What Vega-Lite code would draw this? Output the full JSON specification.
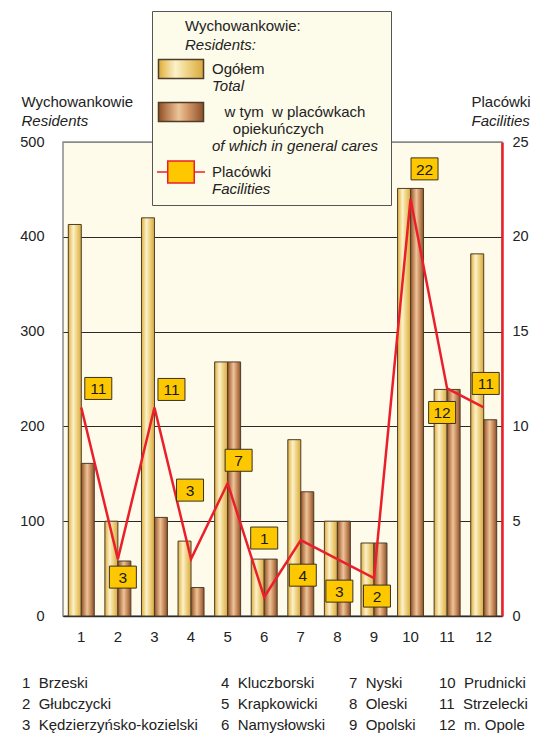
{
  "$schema": "https://vega.github.io/schema/vega-lite/v6.json",
  "width": 439,
  "height": 474,
  "autosize": {"type": "none"},
  "padding": {"left": 63, "top": 142, "right": 31, "bottom": 123},
  "background": "white",
  "config": {
    "font": "Liberation Sans, Arial, sans-serif",
    "view": {"fill": "#fefbea", "stroke": "#8a8a8a", "strokeWidth": 1.5},
    "axis": {"labelFontSize": 14.5, "labelColor": "#222222", "titleColor": "#222222", "titleFontSize": 15, "titleFontWeight": "normal", "ticks": false},
    "legend": {"labelColor": "#222222", "titleColor": "#222222", "titleFontWeight": "normal"}
  },
  "datasets": {
    "d": [
      {"nr": 1, "name": "Brzeski", "total": 413, "general": 161, "facilities": 11},
      {"nr": 2, "name": "Głubczycki", "total": 100, "general": 58, "facilities": 3},
      {"nr": 3, "name": "Kędzierzyńsko-kozielski", "total": 420, "general": 104, "facilities": 11},
      {"nr": 4, "name": "Kluczborski", "total": 79, "general": 30, "facilities": 3},
      {"nr": 5, "name": "Krapkowicki", "total": 268, "general": 268, "facilities": 7},
      {"nr": 6, "name": "Namysłowski", "total": 60, "general": 60, "facilities": 1},
      {"nr": 7, "name": "Nyski", "total": 186, "general": 131, "facilities": 4},
      {"nr": 8, "name": "Oleski", "total": 100, "general": 100, "facilities": 3},
      {"nr": 9, "name": "Opolski", "total": 77, "general": 77, "facilities": 2},
      {"nr": 10, "name": "Prudnicki", "total": 451, "general": 451, "facilities": 22},
      {"nr": 11, "name": "Strzelecki", "total": 239, "general": 239, "facilities": 12},
      {"nr": 12, "name": "m. Opole", "total": 382, "general": 207, "facilities": 11}
    ]
  },
  "data": {"name": "d"},
  "encoding": {
    "x": {
      "field": "nr", "type": "ordinal",
      "scale": {"type": "band", "paddingInner": 0.29, "paddingOuter": 0.145},
      "axis": {"title": null, "labelAngle": 0, "ticks": false, "domainColor": "#2a2a2a", "domainWidth": 1.5, "labelPadding": 13, "labelFontSize": 15}
    }
  },
  "layer": [
    {
      "transform": [{"fold": ["total", "general"], "as": ["series", "value"]}],
      "mark": {"type": "bar", "strokeWidth": 1},
      "encoding": {
        "xOffset": {"field": "series", "type": "nominal", "scale": {"domain": ["total", "general"]}},
        "y": {
          "field": "value", "type": "quantitative",
          "scale": {"domain": [0, 500]},
          "axis": {"orient": "left", "values": [0, 100, 200, 300, 400, 500], "labelPadding": 19, "domain": false, "ticks": false, "grid": true,
            "gridColor": {"condition": {"test": "datum.value === 500", "value": "#8a8a8a"}, "value": "#2a2a2a"}, "gridWidth": 1,
            "title": "Wychowankowie", "titleAngle": 0, "titleAlign": "left", "titleBaseline": "alphabetic", "titleX": -42, "titleY": -36}
        },
        "fill": {
          "field": "series", "type": "nominal",
          "scale": {"domain": ["total", "general", "facilities"], "range": [
            {"expr": "{gradient:'linear',x1:0,y1:0,x2:1,y2:0,stops:[{offset:0,color:'#d8a738'},{offset:0.12,color:'#e9c466'},{offset:0.38,color:'#fbf1cc'},{offset:0.6,color:'#f1d88e'},{offset:1,color:'#d9a93e'}]}"},
            {"expr": "{gradient:'linear',x1:0,y1:0,x2:1,y2:0,stops:[{offset:0,color:'#8a4d26'},{offset:0.15,color:'#b5774a'},{offset:0.45,color:'#ecc49a'},{offset:0.65,color:'#d4996a'},{offset:1,color:'#8c5028'}]}"},
            "#fdc800"]},
          "legend": {
            "orient": "none", "legendX": 89, "legendY": -131,
            "title": ["\u200b\u00a0\u00a0\u00a0\u00a0\u00a0\u00a0Wychowankowie:", "\u200b"],
            "titleFontSize": 15, "titleLineHeight": 19, "titlePadding": -2, "titleLimit": 400,
            "labelExpr": "datum.value === 'total' ? ['Ogółem', '\u200b'] : datum.value === 'general' ? ['\u200b\u00a0\u00a0\u00a0w tym\u00a0\u00a0w placówkach\u00a0\u00a0\u00a0\u00a0\u200b', '\u200b\u00a0\u00a0\u00a0\u00a0\u00a0opiekuńczych', '\u200b'] : ['Placówki', '\u200b']",
            "labelFontSize": 15, "labelLimit": 400, "labelOffset": 13,
            "symbolSize": 1156, "symbolOffset": 3, "symbolStrokeWidth": 1.5, "symbolOpacity": 1, "symbolFillColor": "#fdc800", "symbolStrokeColor": "#4d3d2a",
            "rowPadding": 0, "fillColor": "#fdfbea", "strokeColor": "#555555", "padding": 8,
            "encode": {"labels": {"lineHeight": {"value": 19}}}
          }
        },
        "stroke": {
          "field": "series", "type": "nominal",
          "scale": {"domain": ["total", "general", "facilities"], "range": ["#4d3d2a", "#4d3d2a", "#ea1f2b"]},
          "legend": {
            "orient": "none", "legendX": 89, "legendY": -131,
            "title": ["\u200b\u00a0\u00a0\u00a0\u00a0\u00a0\u00a0Wychowankowie:", "\u200b"],
            "titleFontSize": 15, "titleLineHeight": 19, "titlePadding": -2, "titleLimit": 400,
            "labelExpr": "datum.value === 'total' ? ['Ogółem', '\u200b'] : datum.value === 'general' ? ['\u200b\u00a0\u00a0\u00a0w tym\u00a0\u00a0w placówkach\u00a0\u00a0\u00a0\u00a0\u200b', '\u200b\u00a0\u00a0\u00a0\u00a0\u00a0opiekuńczych', '\u200b'] : ['Placówki', '\u200b']",
            "labelFontSize": 15, "labelLimit": 400, "labelOffset": 13,
            "symbolSize": 1156, "symbolOffset": 3, "symbolStrokeWidth": 1.5, "symbolOpacity": 1, "symbolFillColor": "#fdc800", "symbolStrokeColor": "#4d3d2a",
            "rowPadding": 0, "fillColor": "#fdfbea", "strokeColor": "#555555", "padding": 8,
            "encode": {"labels": {"lineHeight": {"value": 19}}}
          }
        }
      }
    },
    {
      "encoding": {
        "y": {
          "field": "facilities", "type": "quantitative",
          "scale": {"domain": [0, 25]},
          "axis": {"orient": "right", "values": [0, 5, 10, 15, 20, 25], "labelPadding": 10, "domain": true, "domainColor": "#ea1f2b", "domainWidth": 2.5, "ticks": false, "grid": false,
            "title": "Placówki", "titleAngle": 0, "titleAlign": "left", "titleBaseline": "alphabetic", "titleX": -31, "titleY": -36}
        }
      },
      "layer": [
        {"mark": {"type": "line", "strokeWidth": 2.5}, "encoding": {"stroke": {"datum": "facilities", "type": "nominal"}}},
        {"transform": [{"filter": "datum.nr === 1"}], "layer": [
          {"mark": {"type": "point", "shape": "M-1.227,-1H1.227V1H-1.227Z", "size": 484, "filled": true, "fill": "#fdc800", "stroke": "#3a3020", "strokeWidth": 1, "opacity": 1, "xOffset": 17, "yOffset": -19}},
          {"mark": {"type": "text", "fontSize": 15.5, "color": "#1a1a1a", "baseline": "middle", "xOffset": 17, "yOffset": -18}, "encoding": {"text": {"field": "facilities"}}}]},
        {"transform": [{"filter": "datum.nr === 2"}], "layer": [
          {"mark": {"type": "point", "shape": "M-1.227,-1H1.227V1H-1.227Z", "size": 484, "filled": true, "fill": "#fdc800", "stroke": "#3a3020", "strokeWidth": 1, "opacity": 1, "xOffset": 5, "yOffset": 18}},
          {"mark": {"type": "text", "fontSize": 15.5, "color": "#1a1a1a", "baseline": "middle", "xOffset": 5, "yOffset": 19}, "encoding": {"text": {"field": "facilities"}}}]},
        {"transform": [{"filter": "datum.nr === 3"}], "layer": [
          {"mark": {"type": "point", "shape": "M-1.227,-1H1.227V1H-1.227Z", "size": 484, "filled": true, "fill": "#fdc800", "stroke": "#3a3020", "strokeWidth": 1, "opacity": 1, "xOffset": 17, "yOffset": -18}},
          {"mark": {"type": "text", "fontSize": 15.5, "color": "#1a1a1a", "baseline": "middle", "xOffset": 17, "yOffset": -17}, "encoding": {"text": {"field": "facilities"}}}]},
        {"transform": [{"filter": "datum.nr === 4"}], "layer": [
          {"mark": {"type": "point", "shape": "M-1.227,-1H1.227V1H-1.227Z", "size": 484, "filled": true, "fill": "#fdc800", "stroke": "#3a3020", "strokeWidth": 1, "opacity": 1, "xOffset": -1, "yOffset": -69}},
          {"mark": {"type": "text", "fontSize": 15.5, "color": "#1a1a1a", "baseline": "middle", "xOffset": -1, "yOffset": -68}, "encoding": {"text": {"field": "facilities"}}}]},
        {"transform": [{"filter": "datum.nr === 5"}], "layer": [
          {"mark": {"type": "point", "shape": "M-1.227,-1H1.227V1H-1.227Z", "size": 484, "filled": true, "fill": "#fdc800", "stroke": "#3a3020", "strokeWidth": 1, "opacity": 1, "xOffset": 11, "yOffset": -23}},
          {"mark": {"type": "text", "fontSize": 15.5, "color": "#1a1a1a", "baseline": "middle", "xOffset": 11, "yOffset": -22}, "encoding": {"text": {"field": "facilities"}}}]},
        {"transform": [{"filter": "datum.nr === 6"}], "layer": [
          {"mark": {"type": "point", "shape": "M-1.227,-1H1.227V1H-1.227Z", "size": 484, "filled": true, "fill": "#fdc800", "stroke": "#3a3020", "strokeWidth": 1, "opacity": 1, "xOffset": 0, "yOffset": -59}},
          {"mark": {"type": "text", "fontSize": 15.5, "color": "#1a1a1a", "baseline": "middle", "xOffset": 0, "yOffset": -58}, "encoding": {"text": {"field": "facilities"}}}]},
        {"transform": [{"filter": "datum.nr === 7"}], "layer": [
          {"mark": {"type": "point", "shape": "M-1.227,-1H1.227V1H-1.227Z", "size": 484, "filled": true, "fill": "#fdc800", "stroke": "#3a3020", "strokeWidth": 1, "opacity": 1, "xOffset": 2, "yOffset": 35}},
          {"mark": {"type": "text", "fontSize": 15.5, "color": "#1a1a1a", "baseline": "middle", "xOffset": 2, "yOffset": 36}, "encoding": {"text": {"field": "facilities"}}}]},
        {"transform": [{"filter": "datum.nr === 8"}], "layer": [
          {"mark": {"type": "point", "shape": "M-1.227,-1H1.227V1H-1.227Z", "size": 484, "filled": true, "fill": "#fdc800", "stroke": "#3a3020", "strokeWidth": 1, "opacity": 1, "xOffset": 2, "yOffset": 32}},
          {"mark": {"type": "text", "fontSize": 15.5, "color": "#1a1a1a", "baseline": "middle", "xOffset": 2, "yOffset": 33}, "encoding": {"text": {"field": "facilities"}}}]},
        {"transform": [{"filter": "datum.nr === 9"}], "layer": [
          {"mark": {"type": "point", "shape": "M-1.227,-1H1.227V1H-1.227Z", "size": 484, "filled": true, "fill": "#fdc800", "stroke": "#3a3020", "strokeWidth": 1, "opacity": 1, "xOffset": 3, "yOffset": 18}},
          {"mark": {"type": "text", "fontSize": 15.5, "color": "#1a1a1a", "baseline": "middle", "xOffset": 3, "yOffset": 19}, "encoding": {"text": {"field": "facilities"}}}]},
        {"transform": [{"filter": "datum.nr === 10"}], "layer": [
          {"mark": {"type": "point", "shape": "M-1.227,-1H1.227V1H-1.227Z", "size": 484, "filled": true, "fill": "#fdc800", "stroke": "#3a3020", "strokeWidth": 1, "opacity": 1, "xOffset": 14, "yOffset": -30}},
          {"mark": {"type": "text", "fontSize": 15.5, "color": "#1a1a1a", "baseline": "middle", "xOffset": 14, "yOffset": -29}, "encoding": {"text": {"field": "facilities"}}}]},
        {"transform": [{"filter": "datum.nr === 11"}], "layer": [
          {"mark": {"type": "point", "shape": "M-1.227,-1H1.227V1H-1.227Z", "size": 484, "filled": true, "fill": "#fdc800", "stroke": "#3a3020", "strokeWidth": 1, "opacity": 1, "xOffset": -5, "yOffset": 24}},
          {"mark": {"type": "text", "fontSize": 15.5, "color": "#1a1a1a", "baseline": "middle", "xOffset": -5, "yOffset": 25}, "encoding": {"text": {"field": "facilities"}}}]},
        {"transform": [{"filter": "datum.nr === 12"}], "layer": [
          {"mark": {"type": "point", "shape": "M-1.227,-1H1.227V1H-1.227Z", "size": 484, "filled": true, "fill": "#fdc800", "stroke": "#3a3020", "strokeWidth": 1, "opacity": 1, "xOffset": 2, "yOffset": -24}},
          {"mark": {"type": "text", "fontSize": 15.5, "color": "#1a1a1a", "baseline": "middle", "xOffset": 2, "yOffset": -23}, "encoding": {"text": {"field": "facilities"}}}]}
      ]
    },
    {
      "transform": [{"fold": ["total", "general"], "as": ["series", "value"]}],
      "mark": {"type": "point", "opacity": 0, "filled": true},
      "encoding": {
        "shape": {
          "field": "series", "type": "nominal",
          "scale": {"domain": ["total", "general", "facilities"], "range": ["M-1.324,-0.559H1.324V0.559H-1.324Z", "M-1.324,-0.559H1.324V0.559H-1.324Z", "M-1.41,0H-0.78M0.78,0H1.41M-0.78,-0.647H0.78V0.647H-0.78Z"]},
          "legend": {
            "orient": "none", "legendX": 89, "legendY": -131,
            "title": ["\u200b\u00a0\u00a0\u00a0\u00a0\u00a0\u00a0Wychowankowie:", "\u200b"],
            "titleFontSize": 15, "titleLineHeight": 19, "titlePadding": -2, "titleLimit": 400,
            "labelExpr": "datum.value === 'total' ? ['Ogółem', '\u200b'] : datum.value === 'general' ? ['\u200b\u00a0\u00a0\u00a0w tym\u00a0\u00a0w placówkach\u00a0\u00a0\u00a0\u00a0\u200b', '\u200b\u00a0\u00a0\u00a0\u00a0\u00a0opiekuńczych', '\u200b'] : ['Placówki', '\u200b']",
            "labelFontSize": 15, "labelLimit": 400, "labelOffset": 13,
            "symbolSize": 1156, "symbolOffset": 3, "symbolStrokeWidth": 1.5, "symbolOpacity": 1, "symbolFillColor": "#fdc800", "symbolStrokeColor": "#4d3d2a",
            "rowPadding": 0, "fillColor": "#fdfbea", "strokeColor": "#555555", "padding": 8,
            "encode": {"labels": {"lineHeight": {"value": 19}}}
          }
        }
      }
    },
    {
      "transform": [{"calculate": "datum.nr + '\u00a0\u00a0' + datum.name", "as": "key"}],
      "mark": {"type": "point", "opacity": 0},
      "encoding": {
        "y": {"field": "total", "type": "quantitative",
          "axis": {"orient": "left", "title": "Residents", "titleFontStyle": "italic", "labels": false, "ticks": false, "domain": false, "grid": false,
            "titleAngle": 0, "titleAlign": "left", "titleBaseline": "alphabetic", "titleX": -42, "titleY": -17}},
        "color": {"field": "key", "type": "nominal",
          "scale": {"domain": ["1\u00a0\u00a0Brzeski", "2\u00a0\u00a0Głubczycki", "3\u00a0\u00a0Kędzierzyńsko-kozielski", "4\u00a0\u00a0Kluczborski", "5\u00a0\u00a0Krapkowicki", "6\u00a0\u00a0Namysłowski", "7\u00a0\u00a0Nyski", "8\u00a0\u00a0Oleski", "9\u00a0\u00a0Opolski", "10\u00a0\u00a0Prudnicki", "11\u00a0\u00a0Strzelecki", "12\u00a0\u00a0m. Opole"]},
          "legend": {"orient": "none", "legendX": -56, "legendY": 533, "title": null, "columns": 4, "gridAlign": "each", "columnPadding": 8, "rowPadding": 5,
            "symbolSize": 0, "symbolOpacity": 0, "labelOffset": 0, "labelFontSize": 15, "labelLimit": 400, "padding": 0}}
      }
    },
    {
      "transform": [
        {"fold": ["total", "general"], "as": ["series2", "value2"]},
        {"calculate": "datum.series2 === 'total' ? 'Total' : 'General'", "as": "en"}
      ],
      "mark": {"type": "line", "opacity": 0},
      "encoding": {
        "y": {"field": "value2", "type": "quantitative",
          "axis": {"orient": "right", "title": "Facilities", "titleFontStyle": "italic", "labels": false, "ticks": false, "domain": false, "grid": false,
            "titleAngle": 0, "titleAlign": "left", "titleBaseline": "alphabetic", "titleX": -31, "titleY": -17}},
        "strokeDash": {"field": "en", "type": "nominal",
          "scale": {"domain": ["Total", "General", "Facilities"], "range": [[1, 0], [1, 0], [1, 0]]},
          "legend": {
            "orient": "none", "legendX": 89, "legendY": -131,
            "title": ["\u200b", "\u200b\u00a0\u00a0\u00a0\u00a0\u00a0\u00a0Residents:"],
            "titleFontSize": 15, "titleLineHeight": 19, "titlePadding": -2, "titleFontStyle": "italic", "titleLimit": 400,
            "labelExpr": "datum.value === 'Total' ? ['\u200b', 'Total'] : datum.value === 'General' ? ['\u200b', '\u200b', 'of which in general cares'] : ['\u200b', 'Facilities']",
            "labelFontSize": 15, "labelFontStyle": "italic", "labelLimit": 400, "labelOffset": 13,
            "symbolSize": 1156, "symbolOffset": 3, "symbolStrokeWidth": 1.5, "symbolOpacity": 0, "rowPadding": 0, "padding": 8,
            "encode": {"labels": {"lineHeight": {"value": 19}}}
          }
        }
      }
    }
  ],
  "resolve": {"scale": {"y": "independent"}, "axis": {"y": "independent"}}
}
